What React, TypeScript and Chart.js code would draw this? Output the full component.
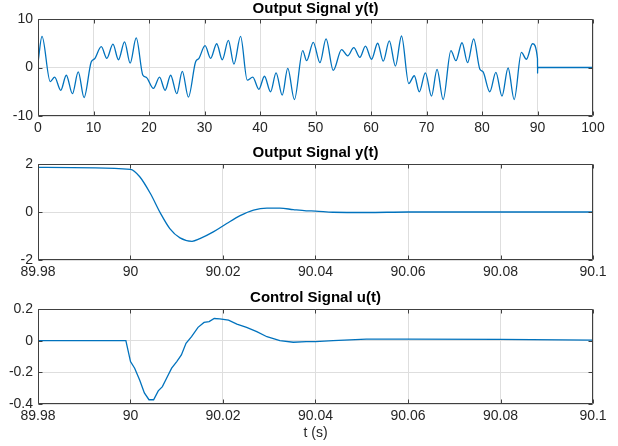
import React, { useEffect, useRef } from "react";
import { Chart, registerables } from "chart.js";
Chart.register(...registerables);

// Top plot: output signal over 0..100 s
const topT = [0, 0.72, 2.2, 3.0, 4.1, 5.1, 6.2, 7.25, 8.3, 9.6, 10.2, 11.4, 12.4, 13.5, 14.5, 15.6, 16.6, 17.7, 18.9, 19.5, 20.8, 21.9, 22.9, 23.9, 25.0, 26.0, 27.1, 28.4, 29.0, 30.1, 31.1, 32.2, 33.2, 34.3, 35.3, 36.5, 37.7, 38.7, 39.8, 40.8, 41.9, 42.9, 44.0, 45.0, 46.2, 47.7, 48.4, 49.6, 50.8, 51.9, 53.2, 54.7, 55.8, 56.9, 58.0, 59.0, 60.1, 61.2, 62.2, 63.3, 64.4, 65.5, 66.8, 67.8, 68.7, 69.8, 70.9, 71.9, 73.0, 74.4, 75.3, 76.4, 77.4, 78.5, 79.6, 80.2, 81.4, 82.5, 83.6, 84.7, 85.8, 87.1, 88.0, 89.1, 90.0, 90.0135, 90.03, 90.06, 100];
const topY = [1.0, 6.4, -2.9, -2.0, -4.7, -1.6, -5.4, -0.9, -6.2, 1.2, 1.8, 4.3, 1.9, 4.8, 1.6, 5.3, 0.9, 6.1, -1.6, -2.0, -4.3, -2.0, -4.7, -1.6, -5.4, -0.8, -6.1, 1.2, 1.9, 4.5, 1.9, 4.9, 1.6, 5.6, 0.7, 6.4, -2.6, -2.0, -4.5, -1.8, -5.0, -1.1, -5.7, -0.2, -6.6, 3.5, 1.4, 5.2, 1.0, 5.9, -0.6, 3.7, 2.4, 4.1, 2.1, 4.4, 1.7, 5.0, 1.3, 5.5, 0.3, 6.5, -3.3, -1.7, -5.0, -1.1, -5.9, -0.4, -6.6, 3.5, 1.4, 5.1, 1.0, 5.9, -0.3, -0.9, -5.0, -1.0, -5.9, -0.1, -6.6, 3.1, 1.7, 4.9, 1.8, -1.2, 0.15, 0, 0];

// Middle plot: output signal zoom 89.98..90.1 s
const zoomT = [89.98, 90.0, 90.002, 90.0043, 90.0065, 90.0085, 90.0107, 90.0133, 90.015, 90.0179, 90.0208, 90.0237, 90.0266, 90.0295, 90.0323, 90.0352, 90.038, 90.04, 90.0438, 90.051, 90.06, 90.1];
const zoomY = [1.86, 1.78, 1.47, 0.77, -0.06, -0.69, -1.08, -1.22, -1.11, -0.83, -0.48, -0.15, 0.08, 0.16, 0.16, 0.10, 0.05, 0.04, -0.01, -0.02, 0, 0];

// Bottom plot: control signal 89.98..90.1 s
const ctrlT = [89.98, 89.999, 90.0, 90.0009, 90.002, 90.003, 90.004, 90.005, 90.006, 90.0069, 90.0078, 90.0089, 90.01, 90.011, 90.012, 90.0132, 90.0146, 90.0159, 90.017, 90.0181, 90.0193, 90.0212, 90.023, 90.0251, 90.0273, 90.0295, 90.0323, 90.0352, 90.038, 90.04, 90.0438, 90.051, 90.06, 90.08, 90.1];
const ctrlY = [0, 0, -0.132, -0.174, -0.25, -0.33, -0.373, -0.373, -0.317, -0.29, -0.237, -0.174, -0.132, -0.09, -0.017, 0.025, 0.084, 0.115, 0.12, 0.14, 0.138, 0.13, 0.105, 0.084, 0.057, 0.025, 0, -0.01, -0.006, -0.006, 0, 0.01, 0.01, 0.008, 0.004];

const FONT = "'Liberation Sans', Arial, Helvetica, sans-serif";
const LINE = "#0072BD";
const W = 618;
const H = 446;

const fmt = (v: number) => {
  const r = Math.round(v * 1000) / 1000;
  return Math.abs(r) < 1e-9 ? "0" : String(r);
};

const boxPlugin = {
  id: "matlabBox",
  afterDatasetsDraw(chart: any) {
    const { ctx, chartArea: a } = chart;
    const xs = chart.scales.x;
    const ys = chart.scales.y;
    ctx.save();
    ctx.strokeStyle = "#404040";
    ctx.lineWidth = 1;
    const L = Math.round(a.left) + 0.5;
    const R = Math.round(a.right) - 0.5;
    const T = Math.round(a.top) + 0.5;
    const B = Math.round(a.bottom) - 0.5;
    ctx.beginPath();
    ctx.rect(L, T, R - L, B - T);
    const tl = 4;
    xs.ticks.forEach((t: any) => {
      const p = Math.round(xs.getPixelForValue(t.value)) + 0.5;
      ctx.moveTo(p, B);
      ctx.lineTo(p, B - tl);
      ctx.moveTo(p, T);
      ctx.lineTo(p, T + tl);
    });
    ys.ticks.forEach((t: any) => {
      const p = Math.round(ys.getPixelForValue(t.value)) + 0.5;
      ctx.moveTo(L, p);
      ctx.lineTo(L + tl, p);
      ctx.moveTo(R, p);
      ctx.lineTo(R - tl, p);
    });
    ctx.stroke();
    ctx.restore();
  },
};

const axTitlePlugin = {
  id: "axTitle",
  afterDraw(chart: any, _args: any, opts: any) {
    const { ctx, chartArea: a } = chart;
    ctx.save();
    ctx.fillStyle = "#000";
    ctx.font = `bold 15px ${FONT}`;
    ctx.textAlign = "center";
    ctx.textBaseline = "middle";
    ctx.fillText(opts.text, (a.left + a.right) / 2, a.top - opts.offset);
    ctx.restore();
  },
};

type Cfg = {
  t: number[];
  y: number[];
  smooth: boolean;
  xMin: number;
  xMax: number;
  xStep: number;
  yMin: number;
  yMax: number;
  yStep: number;
  title: string;
  titleOffset: number;
  top: number;
  bottom: number;
  xHeight: number;
  xTitle?: string;
};

function makeChart(canvas: HTMLCanvasElement, c: Cfg) {
  return new Chart(canvas, {
    type: "line",
    data: {
      datasets: [
        {
          data: c.t.map((t, i) => ({ x: t, y: c.y[i] })),
          borderColor: LINE,
          borderWidth: 1.3,
          pointRadius: 0,
          fill: false,
          tension: c.smooth ? 0.4 : 0,
          cubicInterpolationMode: c.smooth ? "monotone" : "default",
        } as any,
      ],
    },
    options: {
      animation: false,
      responsive: false,
      devicePixelRatio: 1,
      layout: { padding: { top: c.top, bottom: H - c.bottom - c.xHeight, left: 0, right: W - 593 } },
      plugins: {
        legend: { display: false },
        tooltip: { enabled: false },
        title: { display: false },
        axTitle: { text: c.title, offset: c.titleOffset },
      },
      scales: {
        x: {
          type: "linear",
          min: c.xMin,
          max: c.xMax,
          afterFit: (s: any) => {
            s.height = c.xHeight;
          },
          ticks: {
            stepSize: c.xStep,
            autoSkip: false,
            maxRotation: 0,
            padding: 4,
            color: "#262626",
            font: { family: FONT, size: 14 },
            callback: (v: any) => fmt(Number(v)),
          },
          grid: { color: "#dedede", lineWidth: 1, drawTicks: false },
          border: { display: false },
          title: c.xTitle
            ? {
                display: true,
                text: c.xTitle,
                color: "#262626",
                font: { family: FONT, size: 14 },
                padding: { top: 0, bottom: 4 },
              }
            : { display: false },
        },
        y: {
          type: "linear",
          min: c.yMin,
          max: c.yMax,
          afterFit: (s: any) => {
            s.width = 38;
          },
          ticks: {
            stepSize: c.yStep,
            padding: 5,
            color: "#262626",
            font: { family: FONT, size: 14 },
            callback: (v: any) => fmt(Number(v)),
          },
          grid: { color: "#dedede", lineWidth: 1, drawTicks: false },
          border: { display: false },
        },
      },
    } as any,
    plugins: [boxPlugin, axTitlePlugin],
  });
}

export default function App() {
  const r1 = useRef<HTMLCanvasElement>(null);
  const r2 = useRef<HTMLCanvasElement>(null);
  const r3 = useRef<HTMLCanvasElement>(null);

  useEffect(() => {
    const c1 = makeChart(r1.current!, {
      t: topT, y: topY, smooth: true,
      xMin: 0, xMax: 100, xStep: 10,
      yMin: -10, yMax: 10, yStep: 10,
      title: "Output Signal y(t)", titleOffset: 10.5,
      top: 19, bottom: 116, xHeight: 20,
    });
    const c2 = makeChart(r2.current!, {
      t: zoomT, y: zoomY, smooth: true,
      xMin: 89.98, xMax: 90.1, xStep: 0.02,
      yMin: -2, yMax: 2, yStep: 2,
      title: "Output Signal y(t)", titleOffset: 11,
      top: 164, bottom: 260, xHeight: 20,
    });
    const c3 = makeChart(r3.current!, {
      t: ctrlT, y: ctrlY, smooth: false,
      xMin: 89.98, xMax: 90.1, xStep: 0.02,
      yMin: -0.4, yMax: 0.2, yStep: 0.2,
      title: "Control Signal u(t)", titleOffset: 11.5,
      top: 309, bottom: 404, xHeight: H - 404,
      xTitle: "t (s)",
    });
    return () => {
      c1.destroy();
      c2.destroy();
      c3.destroy();
    };
  }, []);

  const cs: React.CSSProperties = { position: "absolute", left: 0, top: 0, width: W, height: H };
  return (
    <div style={{ position: "fixed", left: 0, top: 0, width: W, height: H, background: "#fff" }}>
      <canvas ref={r1} width={W} height={H} style={cs} />
      <canvas ref={r2} width={W} height={H} style={cs} />
      <canvas ref={r3} width={W} height={H} style={cs} />
    </div>
  );
}
